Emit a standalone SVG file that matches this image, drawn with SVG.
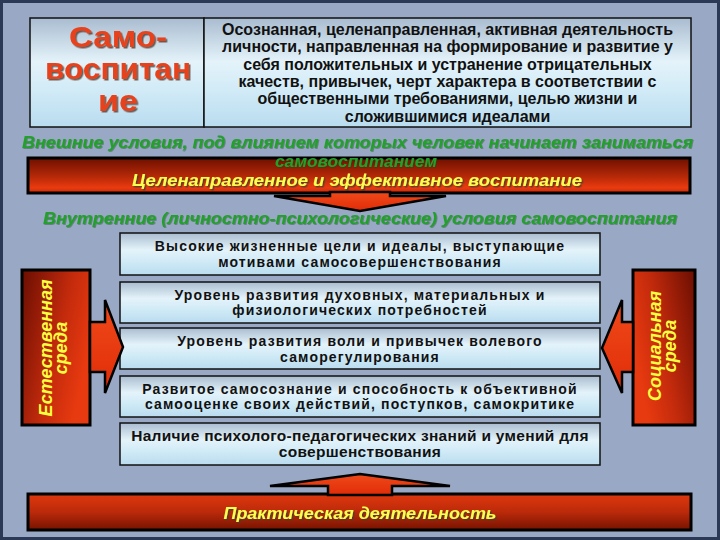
<svg xmlns="http://www.w3.org/2000/svg" width="720" height="540" viewBox="0 0 720 540">
<defs>
<linearGradient id="boxGrad" x1="0" y1="0" x2="0" y2="1">
<stop offset="0" stop-color="#a9bcd0"/>
<stop offset="0.4" stop-color="#e4f3fa"/>
<stop offset="0.65" stop-color="#d2ebf7"/>
<stop offset="1" stop-color="#b9dcef"/>
</linearGradient>
<linearGradient id="barTop" x1="0" y1="0" x2="0" y2="1">
<stop offset="0" stop-color="#6e1000"/>
<stop offset="0.55" stop-color="#b82a08"/>
<stop offset="0.85" stop-color="#ea3a10"/>
<stop offset="1" stop-color="#c82c0a"/>
</linearGradient>
<linearGradient id="barBottom" x1="0" y1="0" x2="0" y2="1">
<stop offset="0" stop-color="#e0380e"/>
<stop offset="0.5" stop-color="#bb2a0a"/>
<stop offset="1" stop-color="#761300"/>
</linearGradient>
<linearGradient id="sideL" x1="0" y1="0" x2="1" y2="0.5">
<stop offset="0" stop-color="#6a0e02"/>
<stop offset="0.6" stop-color="#c22a0c"/>
<stop offset="1" stop-color="#e83a10"/>
</linearGradient>
<linearGradient id="sideR" x1="0" y1="0.5" x2="1" y2="0">
<stop offset="0" stop-color="#e83a10"/>
<stop offset="0.4" stop-color="#c22a0c"/>
<stop offset="1" stop-color="#6a0e02"/>
</linearGradient>
<linearGradient id="arrowFill" x1="0" y1="0" x2="0" y2="1">
<stop offset="0" stop-color="#f04a1a"/>
<stop offset="1" stop-color="#e02c08"/>
</linearGradient>
<filter id="shadow" x="-10%" y="-20%" width="120%" height="140%">
<feDropShadow dx="1.5" dy="1.5" stdDeviation="0.5" flood-color="#4a3a30" flood-opacity="0.8"/>
</filter>
<filter id="gshadow" x="-10%" y="-20%" width="120%" height="140%">
<feDropShadow dx="0.8" dy="0.8" stdDeviation="0.3" flood-color="#0a4a10" flood-opacity="0.5"/>
</filter>
</defs>
<style>
.box{fill:url(#boxGrad);stroke:#111;stroke-width:1.5}
.bt{font-family:"Liberation Sans",Arial,sans-serif;font-weight:bold;font-size:14px;fill:#111;text-anchor:middle;letter-spacing:1.15px}
.bt2{font-family:"Liberation Sans",Arial,sans-serif;font-weight:bold;font-size:15.5px;fill:#111;text-anchor:middle;letter-spacing:0.3px}
.def{font-family:"Liberation Sans",Arial,sans-serif;font-weight:bold;font-size:16px;fill:#111;text-anchor:middle}
.title{font-family:"Liberation Sans",Arial,sans-serif;font-weight:bold;font-size:30px;fill:#e8421c;text-anchor:middle}
.green{font-family:"Liberation Sans",Arial,sans-serif;font-weight:bold;font-style:italic;font-size:16.5px;fill:#22a02c;text-anchor:middle}
.yel{font-family:"Liberation Sans",Arial,sans-serif;font-weight:bold;font-style:italic;font-size:16.5px;fill:#ffff50;text-anchor:middle}
.side{font-family:"Liberation Sans",Arial,sans-serif;font-weight:bold;font-style:italic;font-size:18px;fill:#ffff40;text-anchor:middle}
.arrow{fill:url(#arrowFill);stroke:#000;stroke-width:2.5;stroke-linejoin:miter}
</style>
<rect x="0" y="0" width="720" height="540" fill="#98a8c5"/>
<rect x="1.5" y="1.5" width="717" height="537" fill="none" stroke="#2b3856" stroke-width="3"/>

<g id="term">
<rect class="box" x="30" y="18" width="174" height="109"/>
<g filter="url(#shadow)">
<text class="title" x="118" y="47" textLength="98" lengthAdjust="spacingAndGlyphs">Само-</text>
<text class="title" x="118" y="79" textLength="146" lengthAdjust="spacingAndGlyphs">воспитан</text>
<text class="title" x="118" y="111" textLength="40" lengthAdjust="spacingAndGlyphs">ие</text>
</g>
</g>

<g id="definition">
<rect class="box" x="204" y="18" width="487" height="109"/>
<text class="def" x="447.5" y="34.5">Осознанная, целенаправленная, активная деятельность</text>
<text class="def" x="447.5" y="52">личности, направленная на формирование и развитие у</text>
<text class="def" x="447.5" y="69.5">себя положительных и устранение отрицательных</text>
<text class="def" x="447.5" y="87">качеств, привычек, черт характера в соответствии с</text>
<text class="def" x="447.5" y="104">общественными требованиями, целью жизни и</text>
<text class="def" x="447.5" y="121.5">сложившимися идеалами</text>
</g>

<g id="external-label" filter="url(#gshadow)">
<text class="green" x="357.5" y="148" textLength="671" lengthAdjust="spacingAndGlyphs">Внешние условия, под влиянием которых человек начинает заниматься</text>
</g>

<g id="upbringing">
<rect x="28" y="158" width="662" height="35" fill="url(#barTop)" stroke="#000" stroke-width="3"/>
<text class="green" x="356" y="166.5" font-size="13" textLength="162" lengthAdjust="spacingAndGlyphs" filter="url(#gshadow)">самовоспитанием</text>
<text class="yel" x="357" y="185.5" font-size="16" textLength="450" lengthAdjust="spacingAndGlyphs" filter="url(#shadow)">Целенаправленное и эффективное воспитание</text>
</g>

<g id="internal-label" filter="url(#gshadow)">
<text class="green" x="360" y="224" textLength="634" lengthAdjust="spacingAndGlyphs">Внутренние (личностно-психологические) условия самовоспитания</text>
</g>

<g id="goals">
<rect class="box" x="120" y="233" width="480" height="42"/>
<text class="bt" x="360" y="251">Высокие жизненные цели и идеалы, выступающие</text>
<text class="bt" x="360" y="267">мотивами самосовершенствования</text>
</g>

<g id="needs">
<rect class="box" x="120" y="282" width="480" height="41"/>
<text class="bt" x="360" y="299.5">Уровень развития духовных, материальных и</text>
<text class="bt" x="360" y="315">физиологических потребностей</text>
</g>

<g id="will">
<rect class="box" x="120" y="328" width="480" height="41"/>
<text class="bt" x="360" y="346">Уровень развития воли и привычек волевого</text>
<text class="bt" x="360" y="361.5">саморегулирования</text>
</g>

<g id="selfawareness">
<rect class="box" x="120" y="376" width="480" height="41"/>
<text class="bt" x="360" y="394">Развитое самосознание и способность к объективной</text>
<text class="bt" x="360" y="409">самооценке своих действий, поступков, самокритике</text>
</g>

<g id="knowledge">
<rect class="box" x="120" y="423" width="480" height="42"/>
<text class="bt2" x="360" y="441">Наличие психолого-педагогических знаний и умений для</text>
<text class="bt2" x="360" y="457">совершенствования</text>
</g>

<g id="natural-env">
<rect x="22" y="270" width="68" height="155" fill="url(#sideL)" stroke="#000" stroke-width="3"/>
<g transform="translate(0,348) rotate(-90)">
<text class="side" x="0" y="52">Естественная</text>
<text class="side" x="0" y="67">среда</text>
</g>
</g>

<g id="social-env">
<rect x="633" y="270" width="62" height="155" fill="url(#sideR)" stroke="#000" stroke-width="3"/>
<g transform="translate(0,346) rotate(-90)">
<text class="side" x="0" y="661">Социальная</text>
<text class="side" x="0" y="676">среда</text>
</g>
</g>

<g id="practice">
<rect x="28" y="494" width="663" height="36" fill="url(#barBottom)" stroke="#000" stroke-width="3"/>
<text class="yel" x="360" y="519" textLength="273" lengthAdjust="spacingAndGlyphs" filter="url(#shadow)">Практическая деятельность</text>
</g>

<g id="connectors">
<polygon class="arrow" points="330,192 390,192 390,196 446,196 360,211 274,196 330,196"/>
<polygon class="arrow" points="90,322 105,322 105,300 123,347 105,393 105,372 90,372"/>
<polygon class="arrow" points="633,322 622,322 622,300 602,348 622,393 622,372 633,372"/>
<polygon class="arrow" points="328,495 328,486 270,486 360,474 450,486 392,486 392,495"/>
</g>
</svg>
